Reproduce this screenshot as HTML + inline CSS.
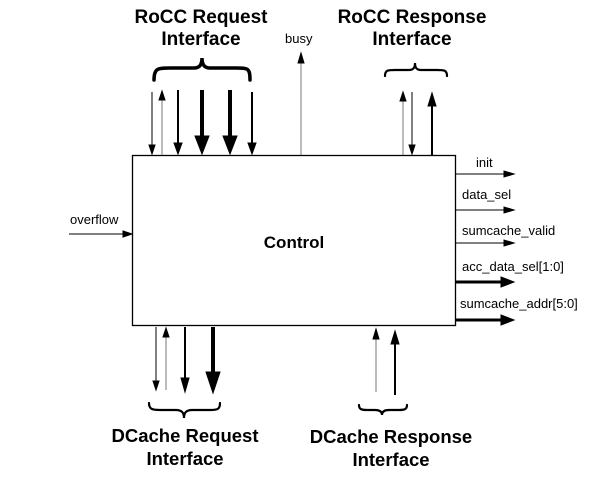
<!DOCTYPE html>
<html><head><style>
html,body{margin:0;padding:0;background:#fff;}
svg{display:block;font-family:"Liberation Sans",Arial,sans-serif;}
</style></head><body>
<svg width="605" height="484" viewBox="0 0 605 484" xmlns="http://www.w3.org/2000/svg">
<rect x="132.5" y="155.5" width="323" height="170" fill="#fff" stroke="#000" stroke-width="1.3"/>
<text x="294" y="248" font-size="17" font-weight="bold" text-anchor="middle">Control</text>

<g font-size="19" font-weight="bold" text-anchor="middle">
<text x="201" y="23">RoCC Request</text>
<text x="201" y="45">Interface</text>
<text x="412" y="23">RoCC Response</text>
<text x="412" y="45">Interface</text>
</g>
<g font-size="18.5" font-weight="bold" text-anchor="middle">
<text x="185" y="442">DCache Request</text>
<text x="185" y="465">Interface</text>
<text x="391" y="443">DCache Response</text>
<text x="391" y="466">Interface</text>
</g>
<g font-size="13">
<text x="285" y="43">busy</text>
<text x="70" y="224">overflow</text>
<text x="476" y="167">init</text>
<text x="462" y="199">data_sel</text>
<text x="462" y="235">sumcache_valid</text>
<text x="462" y="271">acc_data_sel[1:0]</text>
<text x="460" y="308">sumcache_addr[5:0]</text>
</g>

<g fill="none" stroke="#000" stroke-width="3.5" stroke-linecap="round">
<path d="M154,80 C154,68 158,68 170,68 L194,68 C200,68 202,64 202,58 C202,64 204,68 210,68 L236,68 C248,68 250,68 250,80"/>
</g>
<g fill="none" stroke="#000" stroke-width="2.2" stroke-linecap="round">
<path d="M385,76 C385,70 388,70 395,70 L409,70 C414,70 415,67 415,63 C415,67 416,70 421,70 L437,70 C444,70 447,70 447,76"/>
<path d="M149,403 C149,409 152,410 160,410 L176,410 C182,410 184,413 184,418 C184,413 186,410 192,410 L210,410 C218,410 220,409 220,403"/>
<path d="M359,405 C359,409 361,410 367,410 L375,410 C380,410 382,412 382,415 C382,412 384,410 389,410 L399,410 C405,410 407,409 407,405"/>
</g>

<g stroke="#000" fill="#000">
<line x1="152" y1="92" x2="152" y2="146" stroke-width="1"/><polygon points="149,145 155,145 152,154"/>
<line x1="162" y1="100" x2="162" y2="155" stroke-width="1" stroke="#777"/><polygon points="159,100 165,100 162,91"/>
<line x1="178" y1="90" x2="178" y2="145" stroke-width="2"/><polygon points="174,143 182,143 178,154"/>
<line x1="202" y1="90" x2="202" y2="138" stroke-width="4"/><polygon points="195,136 209,136 202,154"/>
<line x1="230" y1="90" x2="230" y2="138" stroke-width="4"/><polygon points="223,136 237,136 230,154"/>
<line x1="252" y1="92" x2="252" y2="144" stroke-width="2"/><polygon points="248,143 256,143 252,154"/>
<line x1="301" y1="62" x2="301" y2="155" stroke-width="1" stroke="#777"/><polygon points="298,63 304,63 301,53"/>
<line x1="403" y1="100" x2="403" y2="155" stroke-width="1" stroke="#777"/><polygon points="400,101 406,101 403,92"/>
<line x1="412" y1="92" x2="412" y2="146" stroke-width="1"/><polygon points="409,145 415,145 412,154"/>
<line x1="432" y1="106" x2="432" y2="155" stroke-width="2"/><polygon points="428,106 436,106 432,93"/>
<line x1="156" y1="327" x2="156" y2="382" stroke-width="1"/><polygon points="153,381 159,381 156,390"/>
<line x1="166" y1="336" x2="166" y2="390" stroke-width="1" stroke="#777"/><polygon points="163,337 169,337 166,328"/>
<line x1="185" y1="327" x2="185" y2="380" stroke-width="2"/><polygon points="181,378 189,378 185,392"/>
<line x1="213" y1="327" x2="213" y2="375" stroke-width="4"/><polygon points="206,372 220,372 213,393"/>
<line x1="376" y1="338" x2="376" y2="392" stroke-width="1" stroke="#777"/><polygon points="373,339 379,339 376,329"/>
<line x1="395" y1="343" x2="395" y2="395" stroke-width="2"/><polygon points="391,344 399,344 395,331"/>
<line x1="69" y1="234" x2="124" y2="234" stroke-width="1"/><polygon points="123,231 123,237 132,234"/>
<line x1="456" y1="174" x2="505" y2="174" stroke-width="1"/><polygon points="504,171 504,177 514,174"/>
<line x1="456" y1="210" x2="505" y2="210" stroke-width="1"/><polygon points="504,207 504,213 514,210"/>
<line x1="456" y1="243" x2="505" y2="243" stroke-width="1"/><polygon points="504,240 504,246 514,243"/>
<line x1="456" y1="282" x2="502" y2="282" stroke-width="3"/><polygon points="501,277 501,287 514,282"/>
<line x1="456" y1="320" x2="502" y2="320" stroke-width="3"/><polygon points="501,315 501,325 514,320"/>
</g>
</svg>
</body></html>
